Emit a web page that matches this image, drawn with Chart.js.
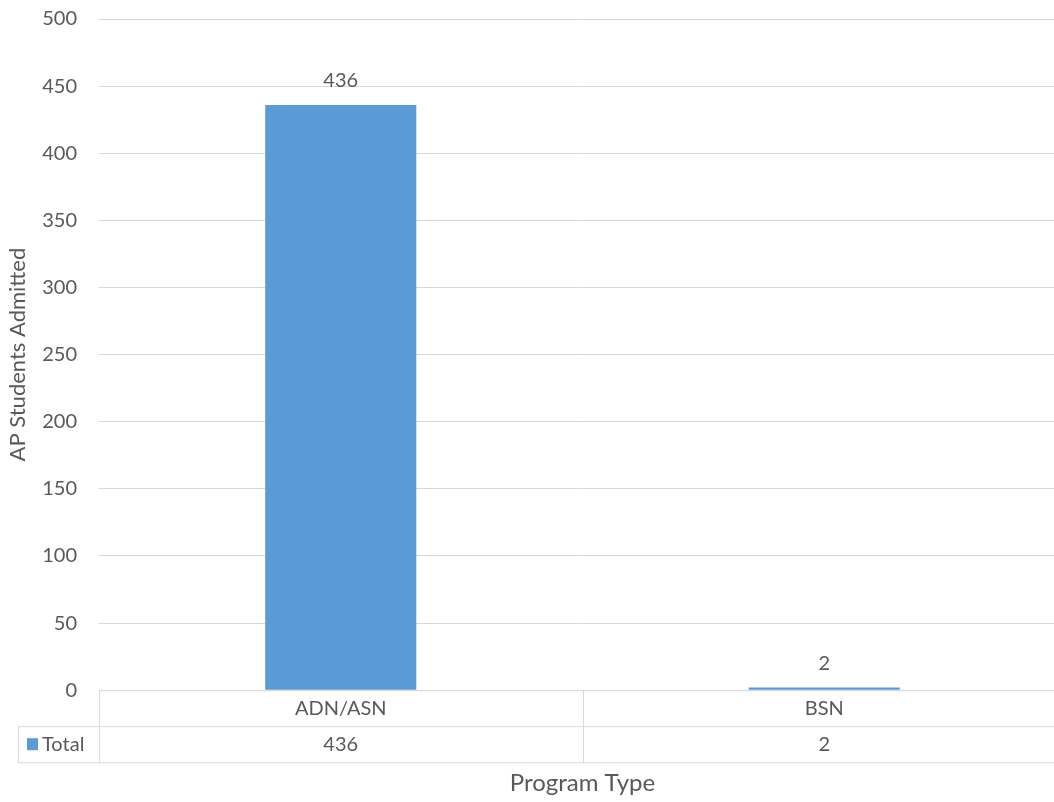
<!DOCTYPE html>
<html>
<head>
<meta charset="utf-8">
<script src="https://cdn.jsdelivr.net/npm/chart.js@4.4.1/dist/chart.umd.min.js"></script>
<style>
  html, body { margin: 0; padding: 0; background: #ffffff; overflow: hidden; }
  #wrap { position: relative; width: 1066px; height: 802px; }
</style>
</head>
<body>
<div id="wrap"><canvas id="c"></canvas></div>
<script>
const categories = ['ADN/ASN', 'BSN'];
const totals = [436, 2];
const seriesName = 'Total';
const yAxisTitle = 'AP Students Admitted';
const xAxisTitle = 'Program Type';
const yMin = 0, yMax = 500, yStep = 50;

const FONT = 'Lato, "Open Sans", sans-serif';
const TEXT = '#595959';
const LINE = '#d9d9d9';
const BAR = '#5b9bd5';

const tablePlugin = {
  id: 'tablePlugin',
  afterDraw(chart) {
    const ctx = chart.ctx;
    const xs = chart.scales.x;
    const area = chart.chartArea;
    const meta = chart.getDatasetMeta(0);
    const top = area.bottom;
    const rowH = 36;
    const r1 = top + rowH, r2 = top + rowH * 2;
    const n = categories.length;
    const cw = (area.right - area.left) / n;
    const leftCol = 18;

    ctx.save();
    ctx.strokeStyle = LINE;
    ctx.lineWidth = 1;
    ctx.beginPath();
    ctx.moveTo(area.left, top + 0.5); ctx.lineTo(area.right, top + 0.5);
    ctx.moveTo(leftCol, r1 + 0.5); ctx.lineTo(area.right, r1 + 0.5);
    ctx.moveTo(leftCol, r2 + 0.5); ctx.lineTo(area.right, r2 + 0.5);
    ctx.moveTo(leftCol + 0.5, r1); ctx.lineTo(leftCol + 0.5, r2);
    for (let i = 0; i <= n; i++) {
      const xx = Math.round(area.left + i * cw) + 0.5;
      ctx.moveTo(xx, top); ctx.lineTo(xx, r2);
    }
    ctx.stroke();

    ctx.fillStyle = TEXT;
    ctx.font = '20px ' + FONT;
    ctx.textAlign = 'center';
    ctx.textBaseline = 'middle';
    categories.forEach((c, i) => {
      const cx = xs.getPixelForValue(i);
      ctx.fillText(c, cx, top + rowH / 2);
      ctx.fillText(String(totals[i]), cx, r1 + rowH / 2);
    });
    ctx.fillStyle = BAR;
    ctx.fillRect(27, r1 + 12, 11, 12);
    ctx.fillStyle = TEXT;
    ctx.textAlign = 'left';
    ctx.fillText(seriesName, 42, r1 + rowH / 2);

    ctx.textAlign = 'center';
    meta.data.forEach((bar, i) => {
      ctx.fillText(String(totals[i]), bar.x, bar.y - 24);
    });
    ctx.restore();
  }
};

new Chart(document.getElementById('c'), {
  type: 'bar',
  data: {
    labels: categories,
    datasets: [{
      label: seriesName,
      data: totals,
      backgroundColor: BAR,
      borderWidth: 0,
      categoryPercentage: 1,
      barPercentage: 0.3125
    }]
  },
  options: {
    responsive: true,
    maintainAspectRatio: false,
    animation: false,
    layout: { padding: { top: 19, right: 0, bottom: 0, left: 0 } },
    plugins: { legend: { display: false }, tooltip: { enabled: false } },
    scales: {
      x: {
        grid: { display: false, drawTicks: false },
        border: { display: false },
        ticks: { display: false },
        title: {
          display: true, text: xAxisTitle, color: TEXT,
          font: { family: FONT, size: 24 },
          padding: { top: 79, bottom: 4 }
        }
      },
      y: {
        min: yMin, max: yMax,
        grid: { color: LINE, lineWidth: 1, drawTicks: false },
        border: { display: false },
        ticks: { stepSize: yStep, color: TEXT, padding: 22, font: { family: FONT, size: 20 } },
        title: {
          display: true, text: yAxisTitle, color: TEXT,
          font: { family: FONT, size: 22 },
          padding: { top: 5, bottom: 0 }
        },
        afterFit(scale) { scale.width = 99; scale.paddingTop = 0; scale.paddingBottom = 0; }
      }
    }
  },
  plugins: [tablePlugin]
});
</script>
</body>
</html>
